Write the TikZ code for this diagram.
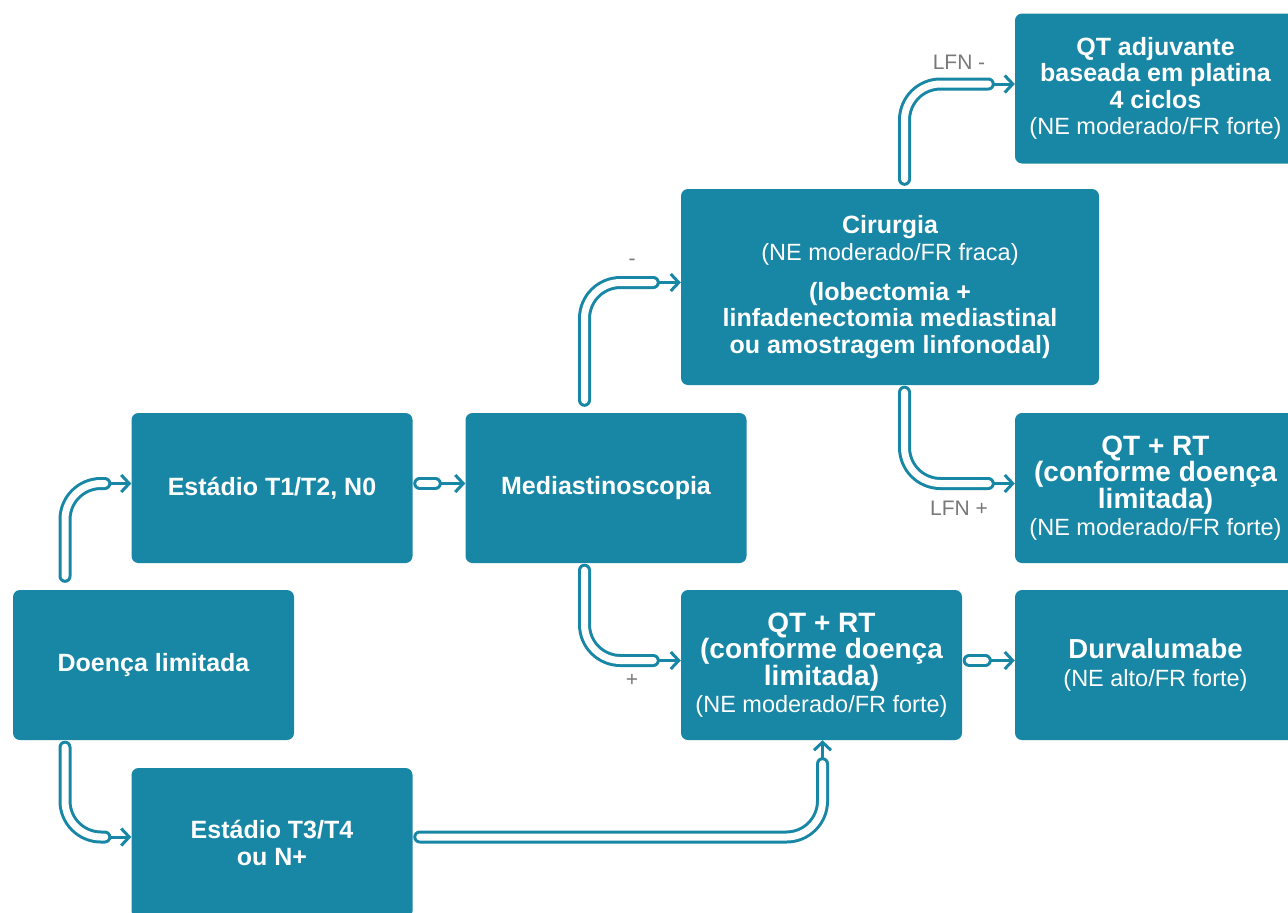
\documentclass[tikz,border=0pt]{standalone}
\usepackage{fontspec}
\setmainfont{Liberation Sans}
\usetikzlibrary{arrows.meta}

\definecolor{boxteal}{RGB}{24,134,165}
\definecolor{lblgray}{RGB}{120,120,120}
\newcommand{\bigline}{\fontsize{27.5}{26.5}\selectfont\bfseries}
\newcommand{\hugeline}{\fontsize{28}{26.5}\selectfont\bfseries}
\newcommand{\smallline}{\fontsize{23.5}{26.5}\selectfont\mdseries}

\begin{document}
\begin{tikzpicture}[x=1pt,y=-1pt,
  box/.style={fill=boxteal, rounded corners=7pt, text=white, align=center, inner sep=0pt,
    minimum width=281pt, minimum height=150pt, font=\fontsize{25}{26.5}\selectfont\bfseries},
  tube/.style={draw=boxteal, line width=13pt, line cap=round, rounded corners=36pt,
    postaction={draw=white, line width=7pt}},
  link/.style={draw=boxteal, line width=3pt, -{Straight Barb[length=8pt,width=17pt,line width=3pt]}},
  lbl/.style={text=lblgray, font=\fontsize{21}{24}\selectfont, inner sep=0pt}
]

  \useasboundingbox (0,0) rectangle (1288,913);

  % Boxes
  \node[box] (doenca) at (153.5,665) {Doença limitada};
  \node[box] (estadioA) at (272,488) {Estádio T1/T2, N0};
  \node[box] (estadioB) at (272,843) {Estádio T3/T4\\ ou N+};
  \node[box] (medias) at (606,488) {Mediastinoscopia};
  \node[box, minimum width=418pt, minimum height=196pt] (cirurgia) at (890,287)
    {Cirurgia\\ \smallline (NE moderado/FR fraca)\\[13.5pt]
     (lobectomia +\\ linfadenectomia mediastinal\\ ou amostragem linfonodal)};
  \node[box] (qtadj) at (1155.5,88.5)
    {QT adjuvante\\ baseada em platina\\ 4 ciclos\\ \smallline (NE moderado/FR forte)};
  \node[box] (qtrtA) at (1155.5,488)
    {\hugeline QT + RT\\ \hugeline (conforme doença\\ \hugeline limitada)\\[0.5pt]
     \smallline (NE moderado/FR forte)};
  \node[box] (qtrtB) at (821.5,665)
    {\hugeline QT + RT\\ \hugeline (conforme doença\\ \hugeline limitada)\\[0.5pt]
     \smallline (NE moderado/FR forte)};
  \node[box] (durva) at (1155.5,665)
    {\bigline Durvalumabe\\[2pt] \smallline (NE alto/FR forte)};

  % Doenca -> T1/T2
  \draw[link] ([xshift=-26.5pt,yshift=4.5pt]estadioA.west) -- ([yshift=4.5pt]estadioA.west);
  \draw[tube] ([xshift=-88.5pt,yshift=13.5pt]doenca.north) |- ([xshift=-26.5pt,yshift=4.5pt]estadioA.west);

  % Doenca -> T3/T4
  \draw[link] ([xshift=-26.5pt,yshift=6pt]estadioB.west) -- ([yshift=6pt]estadioB.west);
  \draw[tube] ([xshift=-88.5pt,yshift=-7pt]doenca.south) |- ([xshift=-26.5pt,yshift=6pt]estadioB.west);

  % T1/T2 -> Mediastinoscopia
  \draw[link] ([xshift=-30pt,yshift=4.5pt]medias.west) -- ([yshift=4.5pt]medias.west);
  \draw[tube] ([xshift=7pt,yshift=4.5pt]estadioA.east) -- ([xshift=-30pt,yshift=4.5pt]medias.west);

  % Mediastinoscopia -> Cirurgia (-)
  \draw[link] ([xshift=-27.5pt,yshift=4.5pt]cirurgia.west) -- ([yshift=4.5pt]cirurgia.west);
  \draw[tube] ([xshift=-21.5pt,yshift=12.5pt]medias.north) |- ([xshift=-27.5pt,yshift=4.5pt]cirurgia.west);

  % Mediastinoscopia -> QT + RT (+)
  \draw[link] ([xshift=-27.5pt,yshift=4.5pt]qtrtB.west) -- ([yshift=4.5pt]qtrtB.west);
  \draw[tube] ([xshift=-21.5pt,yshift=-7pt]medias.south) |- ([xshift=-27.5pt,yshift=4.5pt]qtrtB.west);

  % Cirurgia -> QT adjuvante (LFN -)
  \draw[link] ([xshift=-26.5pt,yshift=4.5pt]qtadj.west) -- ([yshift=4.5pt]qtadj.west);
  \draw[tube] ([xshift=14.5pt,yshift=9.5pt]cirurgia.north) |- ([xshift=-26.5pt,yshift=4.5pt]qtadj.west);

  % Cirurgia -> QT + RT (LFN +)
  \draw[link] ([xshift=-26.5pt,yshift=4.5pt]qtrtA.west) -- ([yshift=4.5pt]qtrtA.west);
  \draw[tube] ([xshift=14.5pt,yshift=-7pt]cirurgia.south) |- ([xshift=-26.5pt,yshift=4.5pt]qtrtA.west);

  % QT + RT -> Durvalumabe
  \draw[link] ([xshift=-29.5pt,yshift=4.5pt]durva.west) -- ([yshift=4.5pt]durva.west);
  \draw[tube] ([xshift=7pt,yshift=4.5pt]qtrtB.east) -- ([xshift=-29.5pt,yshift=4.5pt]durva.west);

  % T3/T4 -> QT + RT
  \draw[link] ([xshift=1pt,yshift=-23.5pt]qtrtB.south) -- ([xshift=1pt]qtrtB.south);
  \draw[tube] ([xshift=7pt,yshift=6pt]estadioB.east) -| ([xshift=1pt,yshift=-23.5pt]qtrtB.south);

  % Labels
  \node[lbl] (lblminus) at (632,262) {-};
  \node[lbl] (lblplus) at (632,680) {+};
  \node[lbl] (lfnminus) at (959,62) {LFN -};
  \node[lbl] (lfnplus) at (959,508) {LFN +};

\end{tikzpicture}
\end{document}
